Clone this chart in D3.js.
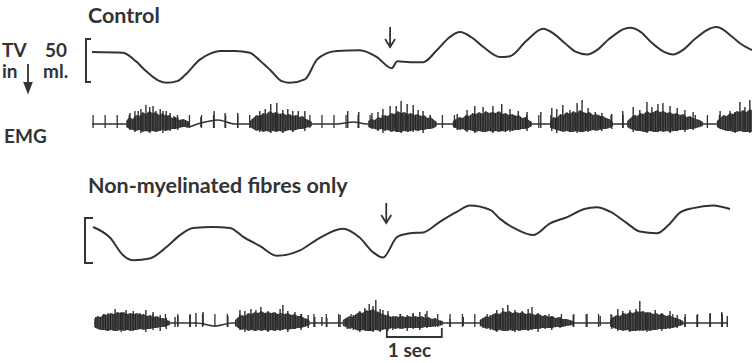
<!DOCTYPE html>
<html>
<head>
<meta charset="utf-8">
<script src="https://cdn.jsdelivr.net/npm/d3@7"></script>
<style>
  body { margin: 0; background: #fff; }
  text { font-family: Lato, "Open Sans", sans-serif; font-weight: 700; fill: #333; }
</style>
</head>
<body>
<svg id="chart" width="752" height="363"></svg>
<script>
// tidal volume traces, [time s, volume ml] (inspiration is downward)
const ctrlVolume = [
  [0, 35], [0.56, 34], [0.8, 24], [0.96, 14], [1.2, 2], [1.36, -1], [1.55, 1], [1.69, 8],
  [1.96, 26], [2.15, 33], [2.33, 36], [2.6, 36], [2.87, 34], [3.05, 25], [3.24, 14], [3.45, 1],
  [3.6, -1], [3.87, 3], [4.09, 26], [4.25, 33], [4.45, 36], [4.87, 37], [5.18, 29], [5.45, 16],
  [5.55, 24], [5.78, 23], [6.02, 23], [6.27, 37], [6.5, 52], [6.69, 58], [6.9, 52], [7.11, 41],
  [7.42, 29], [7.6, 30], [7.9, 48], [8.2, 62], [8.4, 56], [8.6, 45], [8.8, 35], [9.0, 32],
  [9.2, 38], [9.4, 50], [9.78, 63], [9.98, 58], [10.17, 46], [10.4, 35], [10.56, 32], [10.76, 38],
  [10.96, 50], [11.36, 64], [11.65, 52], [11.78, 45], [12, 37]
];
const nmVolume = [
  [0.02, 40], [0.33, 28], [0.56, 9], [0.75, 3], [1.05, 5], [1.36, 18], [1.6, 31], [1.84, 39],
  [2.2, 40], [2.51, 39], [2.75, 29], [3.05, 19], [3.36, 8], [3.78, 14], [4.09, 26],
  [4.56, 38], [4.87, 28], [5.11, 12], [5.29, 6], [5.55, 29], [5.78, 33], [6.02, 34], [6.33, 46],
  [6.64, 57], [6.87, 64], [7.24, 59], [7.42, 49], [7.73, 37], [8.02, 31], [8.33, 44], [8.64, 51],
  [8.95, 60], [9.18, 62], [9.42, 57], [9.73, 44], [9.96, 35], [10.27, 33], [10.51, 44], [10.69, 56],
  [10.93, 61], [11.29, 64], [11.6, 60]
];

// EMG burst outlines, each a list of [time s, height up, depth down]
const ctrlBursts = [
  [[0.62,3,3],[0.68,7,5],[0.74,5,6],[0.8,9,7],[0.86,8,6],[0.92,12,8],[0.98,10,7],[1.04,13,8],[1.1,11,7],
   [1.16,12,8],[1.22,9,7],[1.28,11,6],[1.34,8,7],[1.4,9,6],[1.46,6,5],[1.52,7,5],[1.58,4,4],[1.66,5,3],[1.78,2,2]],
  [[2.87,3,3],[2.93,6,5],[2.99,9,7],[3.05,8,6],[3.11,11,8],[3.17,10,7],[3.23,13,8],[3.29,11,7],[3.35,12,8],
   [3.41,10,7],[3.47,11,8],[3.53,9,7],[3.59,10,6],[3.65,8,7],[3.71,9,6],[3.77,7,5],[3.83,8,5],[3.89,5,4],
   [3.95,4,3],[4.0,2,2]],
  [[5.02,3,3],[5.08,5,4],[5.14,4,5],[5.2,7,6],[5.26,6,5],[5.32,9,7],[5.38,8,6],[5.44,11,8],[5.5,10,7],
   [5.56,13,8],[5.62,11,8],[5.68,12,7],[5.74,10,8],[5.8,11,7],[5.86,9,6],[5.92,10,7],[5.98,8,6],[6.04,9,6],
   [6.1,6,5],[6.16,7,5],[6.22,4,4],[6.27,2,2]],
  [[6.56,3,3],[6.62,5,4],[6.68,7,6],[6.74,6,5],[6.8,9,7],[6.86,8,6],[6.92,11,7],[6.98,10,8],[7.04,12,7],
   [7.1,10,8],[7.16,13,8],[7.22,11,7],[7.28,12,8],[7.34,11,7],[7.4,13,8],[7.46,10,7],[7.52,11,8],[7.58,9,6],
   [7.64,10,7],[7.7,8,6],[7.76,9,6],[7.82,6,5],[7.88,7,5],[7.94,4,4],[8.0,2,2]],
  [[8.33,3,3],[8.39,7,5],[8.45,6,6],[8.51,10,7],[8.57,9,8],[8.63,12,7],[8.69,10,8],[8.75,13,8],[8.81,11,7],
   [8.87,14,8],[8.93,12,8],[8.99,11,7],[9.05,12,7],[9.11,9,6],[9.17,10,7],[9.23,8,6],[9.29,8,5],[9.35,6,5],
   [9.41,5,4],[9.47,2,2]],
  [[9.73,3,3],[9.79,6,5],[9.85,9,6],[9.91,8,7],[9.97,11,7],[10.03,10,8],[10.09,13,8],[10.15,11,7],[10.21,12,8],
   [10.27,14,8],[10.33,12,7],[10.39,13,8],[10.45,11,7],[10.51,12,8],[10.57,10,7],[10.63,11,7],[10.69,9,6],
   [10.75,10,6],[10.81,7,6],[10.87,8,5],[10.93,6,5],[10.99,5,4],[11.05,4,3],[11.11,2,2]],
  [[11.36,3,3],[11.42,6,5],[11.48,9,6],[11.54,8,7],[11.6,11,7],[11.66,10,8],[11.72,13,8],[11.78,12,7],
   [11.84,14,8],[11.9,12,8],[11.96,15,8],[12.02,13,8]]
];
const nmBursts = [
  [[0.04,4,4],[0.1,7,6],[0.16,6,7],[0.22,9,7],[0.28,8,8],[0.34,10,7],[0.4,9,8],[0.46,11,8],[0.52,10,7],
   [0.58,11,8],[0.64,9,7],[0.7,10,8],[0.76,9,7],[0.82,10,7],[0.88,8,6],[0.94,9,7],[1.0,7,6],[1.06,8,6],
   [1.12,6,5],[1.18,7,5],[1.24,5,4],[1.3,5,4],[1.36,3,3],[1.42,2,2]],
  [[2.6,3,3],[2.66,6,5],[2.72,8,7],[2.78,7,6],[2.84,10,8],[2.9,9,7],[2.96,11,8],[3.02,10,7],[3.08,12,8],
   [3.14,10,7],[3.2,11,8],[3.26,10,7],[3.32,11,8],[3.38,9,7],[3.44,10,7],[3.5,9,6],[3.56,10,7],[3.62,8,6],
   [3.68,9,6],[3.74,7,5],[3.8,7,5],[3.86,5,4],[3.92,4,3],[3.96,2,2]],
  [[4.56,3,3],[4.62,5,4],[4.68,7,6],[4.74,6,5],[4.8,9,7],[4.86,11,8],[4.92,10,7],[4.98,13,8],[5.04,12,8],
   [5.1,14,8],[5.16,12,7],[5.22,11,8],[5.28,9,7],[5.34,8,6],[5.4,7,6],[5.46,6,5],[5.52,7,6],[5.58,6,5],
   [5.64,7,6],[5.7,6,5],[5.76,7,5],[5.82,6,5],[5.88,7,5],[5.94,6,5],[6.0,7,5],[6.06,5,4],[6.12,6,4],
   [6.18,4,4],[6.24,5,3],[6.3,3,3],[6.38,2,2]],
  [[7.05,3,3],[7.11,5,4],[7.17,7,6],[7.23,6,5],[7.29,9,7],[7.35,10,8],[7.41,9,7],[7.47,12,8],[7.53,11,8],
   [7.59,12,7],[7.65,10,8],[7.71,11,7],[7.77,10,8],[7.83,11,7],[7.89,9,7],[7.95,10,7],[8.01,9,6],[8.07,8,6],
   [8.13,9,6],[8.19,7,5],[8.25,8,5],[8.31,6,5],[8.37,7,5],[8.43,5,4],[8.49,6,4],[8.55,4,4],[8.63,4,3],[8.75,2,2]],
  [[9.42,3,3],[9.48,6,5],[9.54,8,6],[9.6,7,7],[9.66,10,8],[9.72,9,7],[9.78,11,8],[9.84,10,8],[9.9,12,8],
   [9.96,11,7],[10.02,12,8],[10.08,10,7],[10.14,11,8],[10.2,9,7],[10.26,10,7],[10.32,8,6],[10.38,9,6],
   [10.44,7,6],[10.5,8,5],[10.56,6,5],[10.62,5,4],[10.68,4,3],[10.75,2,2]]
];

// single EMG spikes, [time s, height up, depth down]
const ctrlSpikes = [
  [0.69, 11, 6], [0.78, 13, 8], [0.84, 13, 5], [0.89, 15, 9], [0.98, 19, 7], [1.05, 17, 9], [1.11, 18, 6],
  [1.16, 13, 8], [1.24, 15, 7], [1.29, 13, 9], [1.35, 13, 6], [1.42, 11, 7], [1.49, 8, 5], [1.56, 7, 6],
  [1.98, 7, 3], [2.22, 13, 4], [2.42, 11, 4], [2.65, 11, 4],
  [3.05, 13, 8], [3.15, 15, 6], [3.25, 20, 9], [3.36, 21, 7], [3.47, 14, 9], [3.56, 15, 6], [3.65, 13, 8],
  [3.75, 13, 5], [3.87, 13, 7],
  [4.65, 13, 4], [4.85, 12, 4],
  [5.09, 11, 5], [5.2, 12, 7], [5.29, 15, 9], [5.42, 18, 6], [5.53, 18, 8], [5.62, 23, 9], [5.73, 20, 6],
  [5.84, 19, 8], [5.93, 14, 7], [6.02, 13, 9], [6.15, 9, 5],
  [6.64, 10, 6], [6.82, 14, 8], [6.96, 18, 9], [7.11, 17, 6], [7.29, 18, 9], [7.45, 20, 7], [7.6, 15, 8],
  [7.75, 13, 6], [7.91, 12, 7], [8.16, 12, 4],
  [8.36, 16, 7], [8.45, 15, 9], [8.56, 19, 6], [8.69, 14, 8], [8.82, 21, 9], [8.91, 24, 7], [9.02, 16, 8],
  [9.15, 12, 6], [9.27, 11, 7], [9.45, 10, 5], [9.65, 13, 4],
  [9.84, 17, 8], [9.96, 14, 6], [10.09, 22, 9], [10.18, 17, 7], [10.29, 20, 8], [10.38, 21, 6],
  [10.51, 18, 9], [10.64, 16, 7], [10.78, 14, 8], [10.93, 12, 6], [11.42, 13, 4],
  [11.6, 13, 7], [11.69, 12, 9], [11.78, 22, 6], [11.87, 17, 8], [11.96, 24, 9]
];
const nmSpikes = [
  [0.07, 6, 5], [0.2, 8, 7], [0.29, 10, 8], [0.42, 14, 6], [0.53, 11, 9], [0.62, 13, 7], [0.75, 12, 8],
  [0.87, 10, 6], [0.98, 13, 9], [1.11, 11, 7], [1.24, 8, 8], [1.35, 5, 6],
  [1.51, 6, 4], [1.56, 7, 3], [1.78, 8, 4], [1.89, 10, 4], [2.02, 11, 3], [2.47, 7, 4],
  [2.69, 13, 7], [2.78, 12, 9], [2.89, 14, 6], [2.98, 13, 8], [3.07, 16, 7], [3.2, 12, 9], [3.29, 10, 6],
  [3.42, 14, 8], [3.47, 18, 7], [3.56, 12, 9], [3.69, 11, 6], [3.8, 9, 7], [3.93, 8, 5],
  [4.05, 6, 4], [4.18, 6, 3], [4.27, 5, 4], [4.51, 8, 4],
  [4.64, 5, 6], [4.75, 8, 7], [4.87, 12, 9], [4.96, 15, 6], [5.04, 19, 8], [5.11, 17, 9], [5.16, 23, 7],
  [5.24, 14, 9], [5.29, 13, 6], [5.38, 12, 8], [5.47, 7, 7], [5.6, 9, 6], [5.73, 8, 8], [5.84, 10, 6],
  [5.96, 11, 7], [6.09, 12, 5], [6.24, 5, 4],
  [6.51, 4, 4], [6.75, 6, 3],
  [7.11, 5, 5], [7.24, 8, 7], [7.36, 13, 9], [7.47, 15, 6], [7.56, 18, 8], [7.69, 13, 9], [7.82, 12, 6],
  [7.93, 14, 8], [8.0, 16, 7], [8.11, 10, 9], [8.24, 8, 6], [8.36, 7, 7], [8.51, 6, 5], [8.75, 8, 4],
  [9.0, 9, 4], [9.24, 7, 3],
  [9.45, 8, 6], [9.56, 14, 8], [9.65, 12, 7], [9.78, 13, 9], [9.89, 14, 6], [9.96, 22, 8], [10.09, 11, 9],
  [10.24, 13, 7], [10.36, 10, 8], [10.51, 12, 6], [10.64, 8, 5],
  [10.78, 6, 4], [11.0, 8, 4], [11.24, 10, 4], [11.45, 11, 4], [11.55, 7, 4]
];

// slow wander of the EMG baseline, [time s, offset]
const ctrlDrift = [[0, 0], [1.6, 0], [1.75, -3], [1.92, 0], [2.29, 4], [2.6, 0], [4.45, 0], [4.75, 2], [5.0, 0], [12, 0]];
const nmDrift = [[0.04, 0], [1.9, 0], [2.24, -3], [2.55, 0], [11.55, 0]];

const stimTimes = [5.42, 5.35];      // arrows: nerve stimulation
const markPhase = [0.02, 0.21];      // time marker ticks on EMG
const markStep = [0.219, 0.225];
const calVolume = 50;                // ml calibration bracket
const scaleBarStart = 5.36;
const scaleBarLength = 1;            // sec
const titles = ["Control", "Non-myelinated fibres only"];

const ink = "#333";
const svg = d3.select("#chart");
const xScale = d3.scaleLinear().domain([0, 12]).range([92, 752]);

const defs = svg.append("defs");
const pat = defs.append("pattern")
  .attr("id", "emgTex")
  .attr("width", 5)
  .attr("height", 4)
  .attr("patternUnits", "userSpaceOnUse");
pat.append("rect").attr("width", 5).attr("height", 4).attr("fill", "#6e6e6e");
[[0, 1.3], [1.8, 1], [3.3, 1.2]].forEach(function (s) {
  pat.append("rect").attr("x", s[0]).attr("width", s[1]).attr("height", 4).attr("fill", "#232323");
});
defs.append("clipPath").attr("id", "clipX")
  .append("rect").attr("x", 90).attr("y", 0).attr("width", 662).attr("height", 363);

const panels = [
  { volume: ctrlVolume, bursts: ctrlBursts, spikes: ctrlSpikes, drift: ctrlDrift, end: 12,
    volTop: 39, volBottom: 82, bracketX: 86, bracketW: 5, emgBase: 124, arrowTop: 27, arrowBottom: 47, titleY: 23 },
  { volume: nmVolume, bursts: nmBursts, spikes: nmSpikes, drift: nmDrift, end: 11.55,
    volTop: 218, volBottom: 263, bracketX: 85, bracketW: 8, emgBase: 323, arrowTop: 203, arrowBottom: 223, titleY: 193 }
];

panels.forEach(function (p, i) {
  const g = svg.append("g");
  const yVol = d3.scaleLinear().domain([0, calVolume]).range([p.volBottom, p.volTop]);
  const emgY = d3.scaleLinear().domain([-10, 30]).range([p.emgBase + 10, p.emgBase - 30]);

  g.append("text").attr("x", 88).attr("y", p.titleY).attr("font-size", 21.5).text(titles[i]);

  // calibration bracket
  g.append("path")
    .attr("d", `M${p.bracketX + p.bracketW},${yVol(calVolume)}H${p.bracketX}V${yVol(0)}H${p.bracketX + p.bracketW}`)
    .attr("fill", "none").attr("stroke", ink).attr("stroke-width", 2);

  // tidal volume
  g.append("path")
    .datum(p.volume)
    .attr("d", d3.line().x(d => xScale(d[0])).y(d => yVol(d[1])).curve(d3.curveMonotoneX))
    .attr("fill", "none").attr("stroke", ink).attr("stroke-width", 2);

  // stimulus arrow
  const ax = xScale(stimTimes[i]);
  g.append("path")
    .attr("d", `M${ax},${p.arrowTop}V${p.arrowBottom}M${ax - 5},${p.arrowBottom - 8}L${ax},${p.arrowBottom}L${ax + 5},${p.arrowBottom - 8}`)
    .attr("fill", "none").attr("stroke", ink).attr("stroke-width", 1.8);

  // EMG
  const e = g.append("g").attr("clip-path", "url(#clipX)");
  e.append("path")
    .datum(p.drift)
    .attr("d", d3.line().x(d => xScale(d[0])).y(d => emgY(d[1])).curve(d3.curveMonotoneX))
    .attr("fill", "none").attr("stroke", ink).attr("stroke-width", 1.6);

  const envelope = d3.area()
    .x(d => xScale(d[0]))
    .y0(d => emgY(-d[2]))
    .y1(d => emgY(d[1]));
  e.selectAll("path.burst")
    .data(p.bursts)
    .join("path")
    .attr("class", "burst")
    .attr("d", envelope)
    .attr("fill", "url(#emgTex)");

  const marks = d3.range(markPhase[i], p.end, markStep[i]);
  e.selectAll("line.mark")
    .data(marks)
    .join("line")
    .attr("class", "mark")
    .attr("x1", t => xScale(t)).attr("x2", t => xScale(t))
    .attr("y1", emgY(-4)).attr("y2", emgY(9))
    .attr("stroke", ink).attr("stroke-width", 1.3);

  e.selectAll("line.spike")
    .data(p.spikes)
    .join("line")
    .attr("class", "spike")
    .attr("x1", d => xScale(d[0])).attr("x2", d => xScale(d[0]))
    .attr("y1", d => emgY(-d[2])).attr("y2", d => emgY(d[1]))
    .attr("stroke", "#2e2e2e").attr("stroke-width", 1.4);
});

// labels for the control record
const lab = svg.append("g").attr("font-size", 19);
lab.append("text").attr("x", 2).attr("y", 57).text("TV");
lab.append("text").attr("x", 45).attr("y", 57).text("50");
lab.append("text").attr("x", 2).attr("y", 78).text("in");
lab.append("text").attr("x", 43).attr("y", 78).text("ml.");
lab.append("path")
  .attr("d", "M28,64V90M24.5,83L28,92L31.5,83Z")
  .attr("fill", ink).attr("stroke", ink).attr("stroke-width", 1.8);
lab.append("text").attr("x", 4).attr("y", 143).text("EMG");

// time scale bar
const sx0 = xScale(scaleBarStart), sx1 = xScale(scaleBarStart + scaleBarLength);
svg.append("path")
  .attr("d", `M${sx0},328V337H${sx1}V328`)
  .attr("fill", "none").attr("stroke", ink).attr("stroke-width", 1.8);
svg.append("text").attr("x", sx0 + 1).attr("y", 357).attr("font-size", 19).text("1 sec");
</script>
</body>
</html>
